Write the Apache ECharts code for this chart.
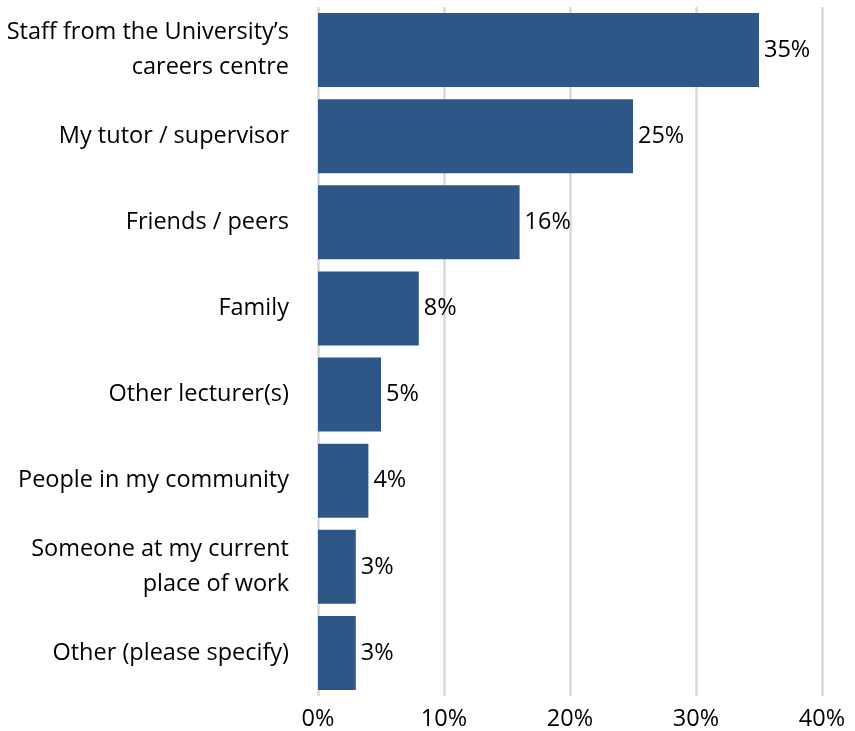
<!DOCTYPE html>
<html>
<head>
<meta charset="utf-8">
<script src="https://cdn.jsdelivr.net/npm/echarts@6/dist/echarts.min.js"></script>
<style>
  html, body { margin: 0; padding: 0; background: #fff; }
  #chart { width: 855px; height: 731px; }
</style>
</head>
<body>
<div id="chart"></div>
<script>
// Where students sought careers advice (share of respondents, %)
const categories = [
  "Staff from the University\u2019s\ncareers centre",
  "My tutor / supervisor",
  "Friends / peers",
  "Family",
  "Other lecturer(s)",
  "People in my community",
  "Someone at my current\nplace of work",
  "Other (please specify)"
];
const values = [35, 25, 16, 8, 5, 4, 3, 3];
const xTicks = [0, 10, 20, 30, 40];

const FONT = "'Open Sans', 'Noto Sans', sans-serif";
const chart = echarts.init(document.getElementById('chart'));
chart.setOption({
  animation: false,
  grid: { left: 318, right: 33, top: 7, bottom: 35, containLabel: false },
  xAxis: {
    type: 'value',
    min: xTicks[0],
    max: xTicks[xTicks.length - 1],
    interval: xTicks[1] - xTicks[0],
    axisLine: { show: false },
    axisTick: { show: false },
    axisLabel: {
      formatter: v => v + '%',
      color: '#000',
      fontFamily: FONT,
      fontSize: 23.5,
      margin: 11
    },
    splitLine: { show: true, lineStyle: { color: '#d9d9d9', width: 2.5 } }
  },
  yAxis: {
    type: 'category',
    data: categories,
    inverse: true,
    axisLine: { show: false },
    axisTick: { show: false },
    axisLabel: {
      color: '#000',
      fontFamily: FONT,
      fontSize: 23.5,
      lineHeight: 35,
      margin: 29,
      align: 'right'
    }
  },
  series: [{
    type: 'bar',
    data: values,
    barCategoryGap: '14%',
    itemStyle: { color: '#2e5788' },
    label: {
      show: true,
      position: 'right',
      distance: 5,
      formatter: p => p.value + '%',
      color: '#000',
      fontFamily: FONT,
      fontSize: 23.5
    }
  }]
});
</script>
</body>
</html>
